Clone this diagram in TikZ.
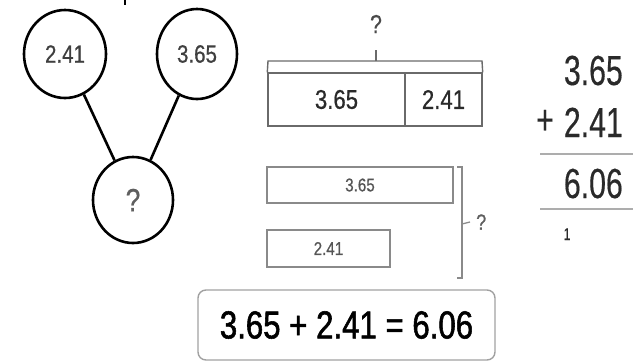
\documentclass[tikz,border=0pt]{standalone}
\usepackage{fontspec}
\setmainfont[FakeStretch=0.82,FakeBold=0.6]{Liberation Sans}
\newfontfamily\narrowfont[FakeStretch=0.72,FakeBold=0.4]{Liberation Sans}
\newfontfamily\eqfont[FakeStretch=0.8,FakeBold=1.4]{Liberation Sans}
\usetikzlibrary{shapes.geometric}
\definecolor{ink}{HTML}{2A2A2A}
\definecolor{softgray}{HTML}{8A8A8A}
\definecolor{bargray}{HTML}{6A6A6A}
\tikzset{
  bubble/.style={ellipse, draw=black, line width=2.6pt, inner sep=0pt, text=ink!90, font=\fontsize{25}{25}\selectfont},
  topbar/.style={rectangle, draw=bargray, line width=1.4pt, inner sep=0pt, text=ink, font=\fontsize{27}{27}\selectfont},
  lowbar/.style={rectangle, draw=softgray, line width=1.3pt, inner sep=0pt, text=ink!80, font=\fontsize{18.5}{18.5}\selectfont},
  brace/.style={draw=bargray, line width=1.4pt},
  sumline/.style={draw=softgray!70, line width=1.6pt},
  colnum/.style={inner sep=0pt, text=ink, font=\narrowfont\fontsize{42}{42}\selectfont},
  eqbox/.style={rectangle, rounded corners=8pt, draw=softgray!80, line width=1.4pt, inner sep=0pt, text=black, font=\eqfont\fontsize{39}{39}\selectfont}
}
\begin{document}
\begin{tikzpicture}[x=1pt,y=-1pt]
\useasboundingbox (0,0) rectangle (641,360);
% tiny tick at top
\draw[black, line width=1.6pt] (125,0) -- (125,5);
% number bond
\node[bubble, minimum width=82pt, minimum height=88pt] (c1) at (65,54) {2.41};
\node[bubble, minimum width=80pt, minimum height=90pt] (c2) at (197,54) {3.65};
\node[bubble, minimum width=80pt, minimum height=86pt, font=\fontsize{32}{32}\selectfont, text=ink!75] (c3) at (133,200) {?};
\draw[black, line width=2.6pt] (c1) -- (c3);
\draw[black, line width=2.6pt] (c2) -- (c3);
% top bar model
\node[topbar, minimum width=137pt, minimum height=53pt] (a) at (336.5,99.5) {3.65};
\node[topbar, minimum width=77pt, minimum height=53pt] (b) at (443.5,99.5) {2.41};
\coordinate (bl) at (268,61);
\coordinate (br) at (482,61);
\coordinate (bm) at (376,61);
\coordinate (bt) at (376,50);
\draw[brace] (a.north west) -- (bl) -- (br) -- (b.north east);
\draw[brace] (bm) -- (bt);
\node[inner sep=0pt, text=ink!85, font=\fontsize{26}{26}\selectfont] (q1) at (376,24) {?};
% lower bar model
\node[lowbar, minimum width=186pt, minimum height=36pt] (l1) at (360,185) {3.65};
\node[lowbar, minimum width=123pt, minimum height=37pt] (l2) at (328.5,248.5) {2.41};
\coordinate (rt0) at (457,167);
\coordinate (rt) at (462,167);
\coordinate (rb) at (462,278);
\coordinate (rb0) at (457,278);
\coordinate (rm) at (462,224);
\coordinate (rm1) at (470,222);
\draw[draw=softgray, line width=1.3pt] (rt0) -- (rt) -- (rb) -- (rb0);
\draw[draw=softgray, line width=1.3pt] (rm) -- (rm1);
\node[inner sep=0pt, text=ink!75, font=\fontsize{22}{22}\selectfont, anchor=west] (q2) at (476,222) {?};
% vertical addition
\node[colnum, anchor=base east] (n1) at (623,85) {3.65};
\node[colnum, anchor=base east] (n2) at (623,137) {2.41};
\node[colnum, anchor=base east] (n3) at (623,198) {6.06};
\node[colnum, anchor=center] (plus) at (545,122) {+};
\coordinate (s1a) at (540,154);
\coordinate (s1b) at (633,154);
\coordinate (s2a) at (540,209);
\coordinate (s2b) at (633,209);
\draw[sumline] (s1a) -- (s1b);
\draw[sumline] (s2a) -- (s2b);
\node[inner sep=0pt, anchor=base, text=ink, font=\narrowfont\fontsize{17}{17}\selectfont] (carry) at (567,240) {1};
% equation
\node[eqbox, minimum width=297pt, minimum height=70pt] (eq) at (346.5,325) {3.65 + 2.41 = 6.06};
\end{tikzpicture}
\end{document}
